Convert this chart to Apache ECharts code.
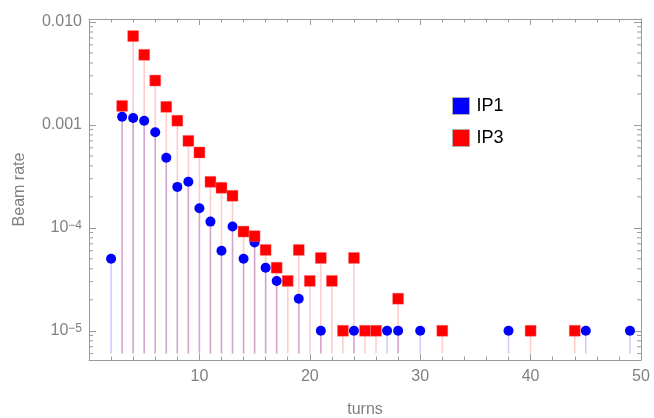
<!DOCTYPE html>
<html>
<head>
<meta charset="utf-8">
<script src="https://cdn.jsdelivr.net/npm/echarts@6/dist/echarts.min.js"></script>
<style>html,body{margin:0;padding:0;background:#fff}#c{width:654px;height:418px}</style>
</head>
<body>
<div id="c"></div>
<script>
// ---- data ----
const ip1Turns = [2, 3, 4, 5, 6, 7, 8, 9, 10, 11, 12, 13, 14, 15, 16, 17, 19, 21, 24, 27, 28, 30, 38, 45, 49];
const ip1Rate  = [5e-5, 1.2e-3, 1.17e-3, 1.1e-3, 8.5e-4, 4.8e-4, 2.5e-4, 2.8e-4, 1.55e-4, 1.15e-4, 6e-5, 1.03e-4, 5e-5, 7.2e-5, 4.1e-5, 3.05e-5, 2.05e-5, 1e-5, 1e-5, 1e-5, 1e-5, 1e-5, 1e-5, 1e-5, 1e-5];
const ip3Turns = [3, 4, 5, 6, 7, 8, 9, 10, 11, 12, 13, 14, 15, 16, 17, 18, 19, 20, 21, 22, 23, 24, 25, 26, 28, 32, 40, 44];
const ip3Rate  = [1.53e-3, 7.3e-3, 4.8e-3, 2.7e-3, 1.5e-3, 1.1e-3, 7e-4, 5.4e-4, 2.8e-4, 2.45e-4, 2.05e-4, 9.2e-5, 8.3e-5, 6.1e-5, 4.1e-5, 3.05e-5, 6.1e-5, 3.05e-5, 5.1e-5, 3.05e-5, 1e-5, 5.1e-5, 1e-5, 1e-5, 2.05e-5, 1e-5, 1e-5, 1e-5];
const seriesNames = ['IP1', 'IP3'];
const xTickLabels = ['0', '10', '20', '30', '40', '50'];
const yTickLabels = {'-2': '0.010', '-3': '0.001', '-4': '10{s|\u22124}', '-5': '10{s|\u22125}'};
const yMinorTicks = [6e-6, 7e-6, 8e-6, 9e-6,
  2e-5, 3e-5, 4e-5, 5e-5, 6e-5, 7e-5, 8e-5, 9e-5,
  2e-4, 3e-4, 4e-4, 5e-4, 6e-4, 7e-4, 8e-4, 9e-4,
  2e-3, 3e-3, 4e-3, 5e-3, 6e-3, 7e-3, 8e-3, 9e-3];

// ---- style constants ----
const X_MIN = 0, X_MAX = 50, Y_MIN = 5.2e-6, Y_MAX = 0.0107, STEM_BASE = 6e-6;
const FRAME = '#9a9a9a', LABEL = '#808080';
const FONT = 'Liberation Sans, Arial, sans-serif';

const chart = echarts.init(document.getElementById('c'), null, {renderer: 'canvas'});

function pairs(xs, ys) { return xs.map((x, i) => [x, ys[i]]); }

function stemRender(color) {
  return function (params, api) {
    const x = api.value(0), y = api.value(1);
    const p1 = api.coord([x, y]);
    const p0 = api.coord([x, STEM_BASE]);
    return {type: 'line', shape: {x1: p0[0], y1: p0[1], x2: p1[0], y2: p1[1]},
      style: {stroke: color, lineWidth: 1.6}};
  };
}

function minorTickRender(params, api) {
  const v = api.value(1);
  const l = api.coord([X_MIN, v]);
  const r = api.coord([X_MAX, v]);
  return {type: 'group', children: [
    {type: 'line', shape: {x1: l[0], y1: l[1], x2: l[0] + 4, y2: l[1]}, style: {stroke: FRAME, lineWidth: 1}},
    {type: 'line', shape: {x1: r[0], y1: r[1], x2: r[0] - 4, y2: r[1]}, style: {stroke: FRAME, lineWidth: 1}}
  ]};
}

const xCommon = {
  type: 'value', min: X_MIN, max: X_MAX, interval: 10,
  axisLine: {show: true, onZero: false, lineStyle: {color: FRAME, width: 1}},
  axisTick: {show: true, inside: true, length: 6, lineStyle: {color: FRAME}},
  minorTick: {show: true, splitNumber: 5, length: 3.5, lineStyle: {color: FRAME}},
  splitLine: {show: false}, minorSplitLine: {show: false}
};
const yCommon = {
  type: 'log', logBase: 10, min: Y_MIN, max: Y_MAX,
  axisLine: {show: true, onZero: false, lineStyle: {color: FRAME, width: 1}},
  axisTick: {show: true, inside: true, length: 7, lineStyle: {color: FRAME}},
  splitLine: {show: false}
};

chart.setOption({
  animation: false,
  textStyle: {fontFamily: FONT},
  grid: {left: 89, right: 13, top: 19, bottom: 58, containLabel: false, outerBoundsMode: 'none'},
  legend: {
    orient: 'vertical', left: 447, top: 92, itemWidth: 17, itemHeight: 17, itemGap: 14,
    icon: 'rect', data: seriesNames,
    itemStyle: {borderColor: '#b0b0b0', borderWidth: 1, opacity: 1},
    textStyle: {fontSize: 18, color: '#000', fontFamily: FONT, padding: [0, 0, 0, 2]}
  },
  xAxis: [
    Object.assign({}, xCommon, {
      position: 'bottom', name: 'turns', nameLocation: 'middle', nameGap: 42,
      nameTextStyle: {fontSize: 16, color: LABEL, fontFamily: FONT},
      axisLabel: {show: true, color: LABEL, fontSize: 16, margin: 9, fontFamily: FONT,
        formatter: v => xTickLabels[Math.round(v / 10)] === '0' ? '' : xTickLabels[Math.round(v / 10)]}
    }),
    Object.assign({}, xCommon, {position: 'top', axisLabel: {show: false}})
  ],
  yAxis: [
    Object.assign({}, yCommon, {
      position: 'left', name: 'Beam rate', nameLocation: 'middle', nameGap: 61, nameRotate: 90,
      nameTextStyle: {fontSize: 16, color: LABEL, fontFamily: FONT},
      axisLabel: {show: true, color: LABEL, fontSize: 16, margin: 7, fontFamily: FONT,
        showMinLabel: false, showMaxLabel: false,
        formatter: v => { const k = String(Math.round(Math.log10(v))); return yTickLabels[k] || ''; },
        rich: {s: {fontSize: 12, color: LABEL, fontFamily: FONT, verticalAlign: 'top', lineHeight: 12, padding: [0, 0, 6, 0]}}
      }
    }),
    Object.assign({}, yCommon, {position: 'right', axisLabel: {show: false}})
  ],
  series: [
    {type: 'custom', name: 'stems1', xAxisIndex: 0, yAxisIndex: 0, silent: true, clip: false,
      renderItem: stemRender('rgba(0,0,255,0.2)'), data: pairs(ip1Turns, ip1Rate), z: 1},
    {type: 'custom', name: 'stems3', xAxisIndex: 0, yAxisIndex: 0, silent: true, clip: false,
      renderItem: stemRender('rgba(255,0,0,0.2)'), data: pairs(ip3Turns, ip3Rate), z: 1},
    {type: 'custom', name: 'minor', xAxisIndex: 0, yAxisIndex: 0, silent: true, clip: false,
      renderItem: minorTickRender, data: yMinorTicks.map(v => [X_MIN, v]), z: 3},
    {type: 'scatter', name: seriesNames[0], xAxisIndex: 0, yAxisIndex: 0, symbol: 'circle', symbolSize: 10,
      itemStyle: {color: '#0000ff', opacity: 1}, data: pairs(ip1Turns, ip1Rate), z: 4},
    {type: 'scatter', name: seriesNames[1], xAxisIndex: 0, yAxisIndex: 0, symbol: 'rect', symbolSize: 11,
      itemStyle: {color: '#ff0000', opacity: 1, borderColor: 'rgba(255,120,120,0.6)', borderWidth: 0.6}, data: pairs(ip3Turns, ip3Rate), z: 5}
  ]
});
</script>
</body>
</html>
